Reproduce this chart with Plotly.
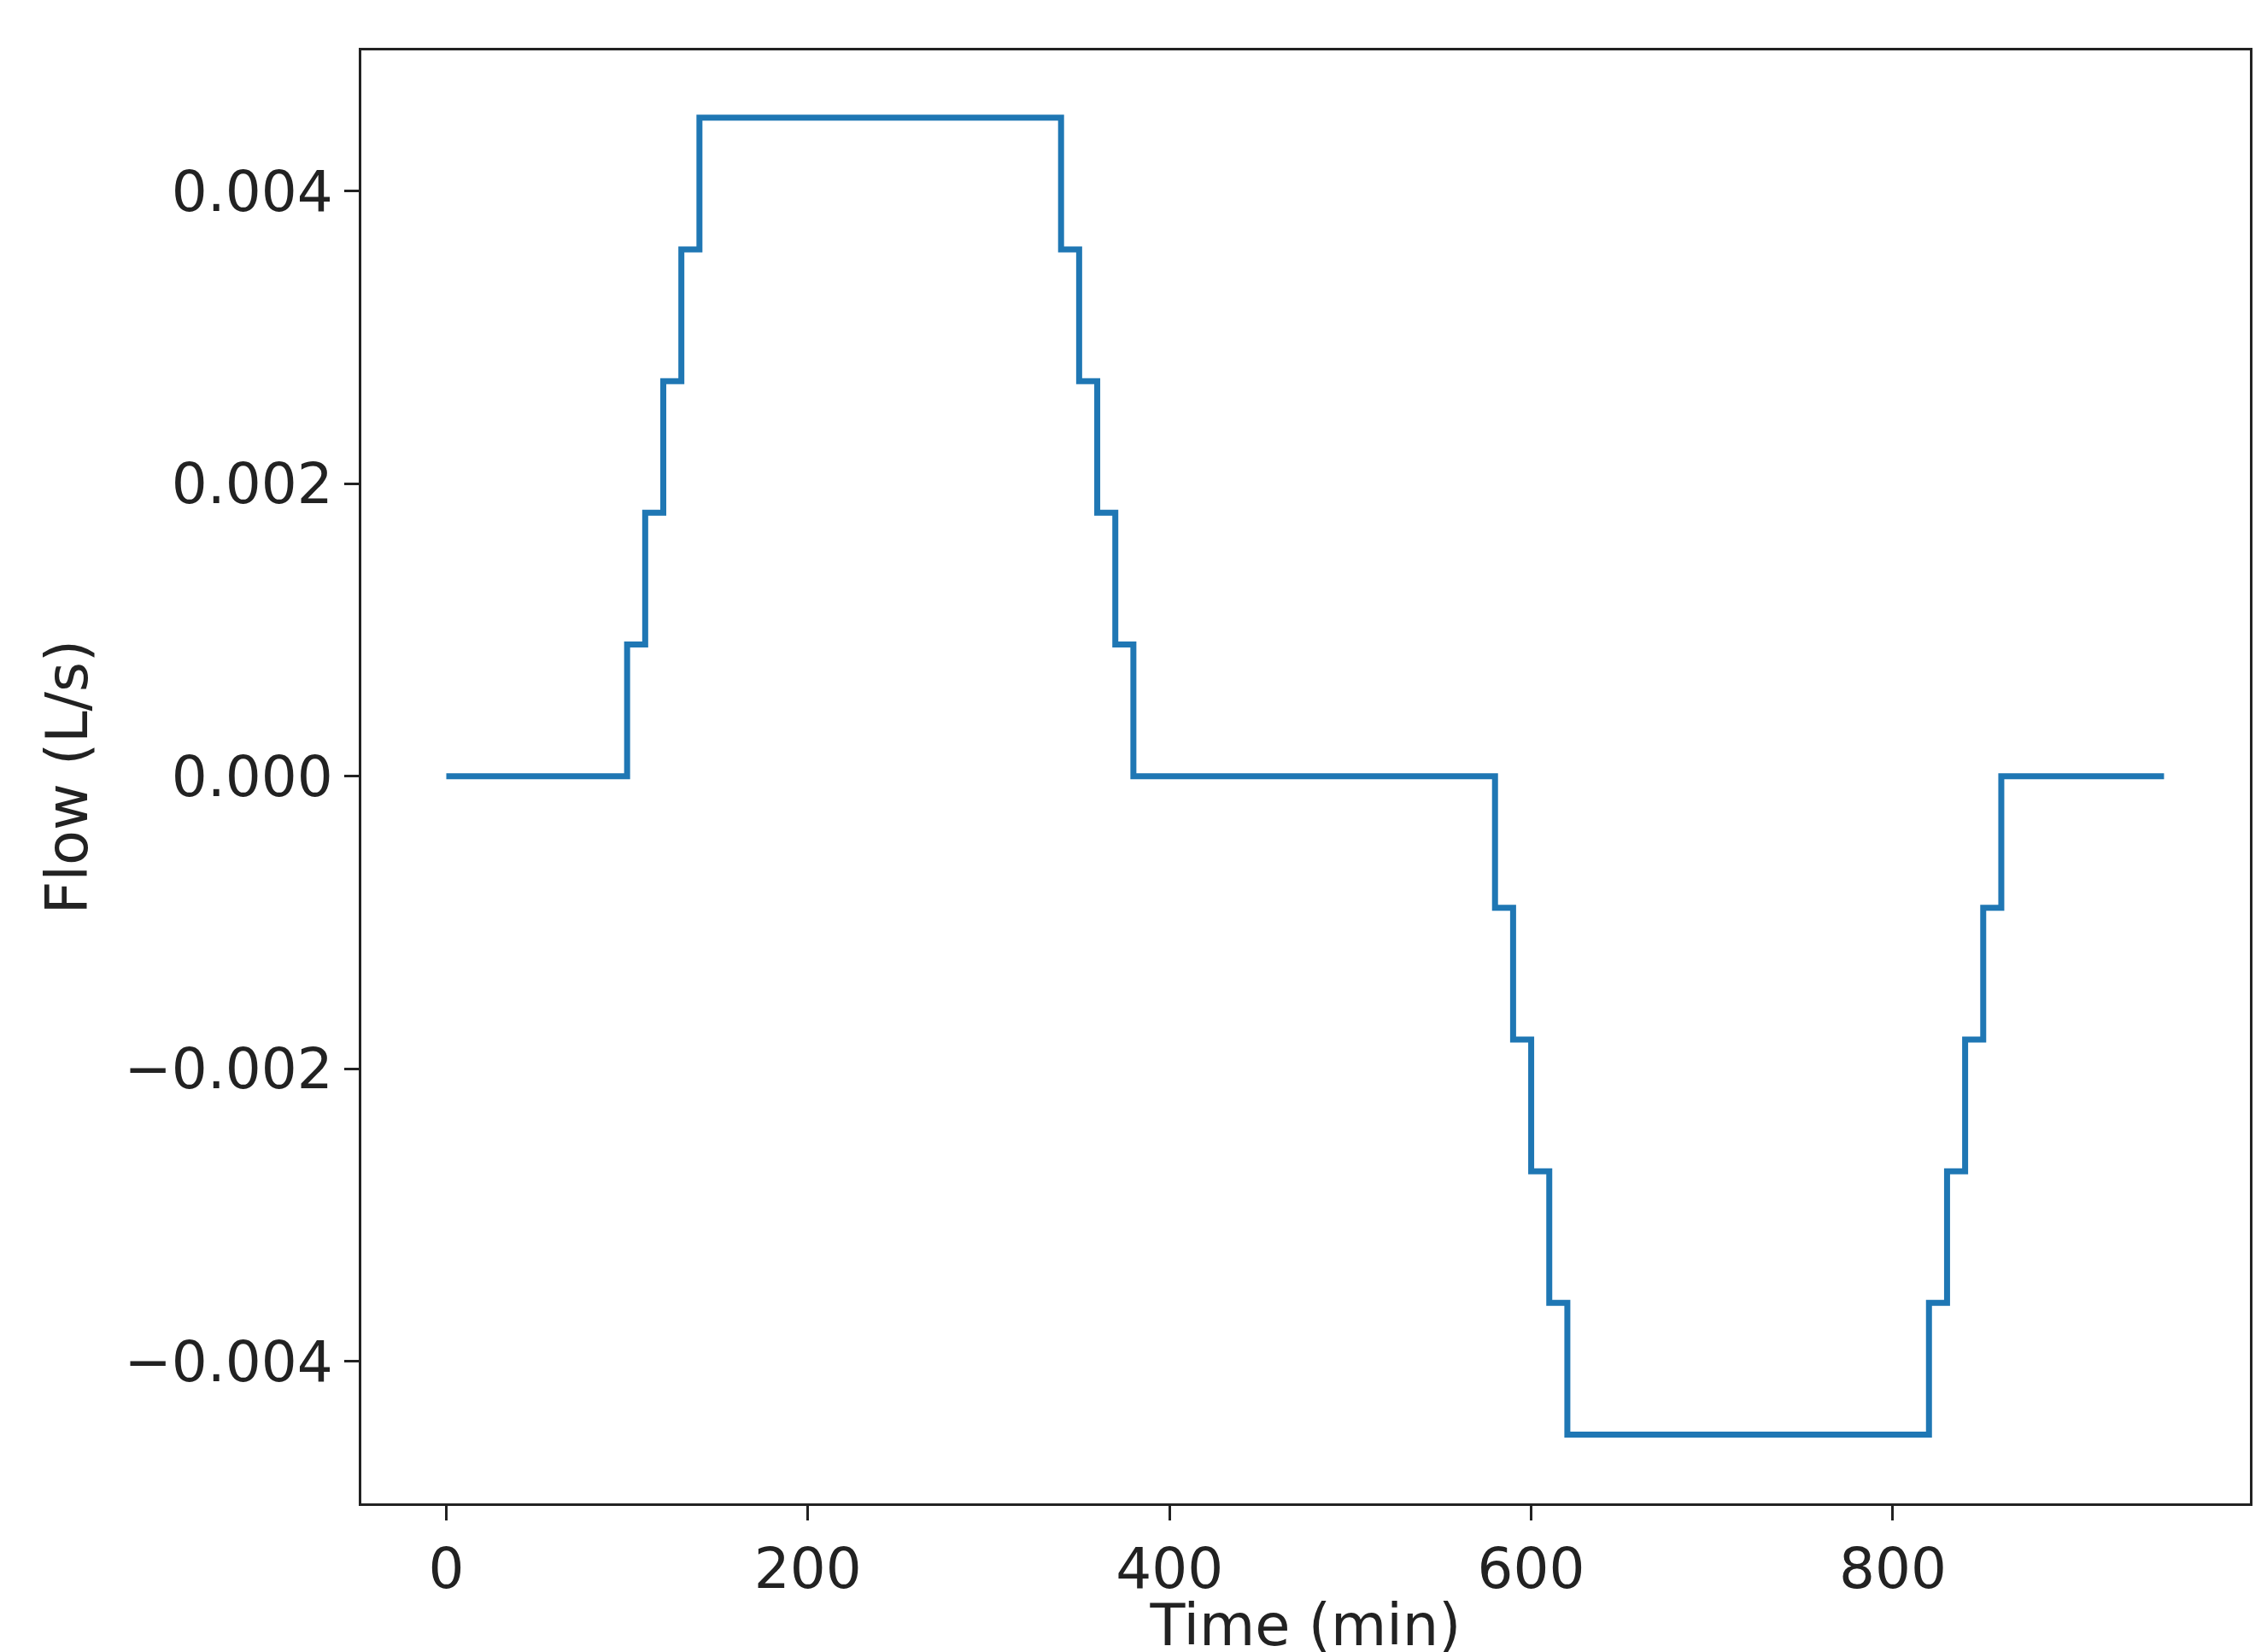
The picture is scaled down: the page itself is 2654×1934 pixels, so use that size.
import plotly.graph_objects as go

t = [0, 100, 110, 120, 130, 140, 340, 350, 360, 370, 380, 580, 590, 600, 610, 620, 820, 830, 840, 850, 860, 950]
flow = [0, 0.0009, 0.0018, 0.0027, 0.0036, 0.0045, 0.0036, 0.0027, 0.0018, 0.0009, 0,
        -0.0009, -0.0018, -0.0027, -0.0036, -0.0045, -0.0036, -0.0027, -0.0018, -0.0009, 0, 0]
xticks = [0, 200, 400, 600, 800]
yticks = [-0.004, -0.002, 0.0, 0.002, 0.004]
yticklabels = ["\u22120.004", "\u22120.002", "0.000", "0.002", "0.004"]

fig = go.Figure(go.Scatter(x=t, y=flow, mode="lines", line=dict(shape="hv", color="#1f77b4", width=7)))
ax = dict(showgrid=False, zeroline=False, showline=True, linecolor="#222", linewidth=3, mirror=True,
          ticks="outside", ticklen=17, tickwidth=3, tickcolor="#222", tickfont=dict(size=66))
fig.update_layout(
    width=2654, height=1934, plot_bgcolor="white", paper_bgcolor="white",
    font=dict(family="DejaVu Sans", size=56, color="#222"),
    margin=dict(l=415, r=28, t=51, b=177), showlegend=False,
    xaxis=dict(ax, range=[-47, 997.5], tickvals=xticks, title=dict(text="Time (min)", standoff=8)),
    yaxis=dict(ax, range=[-0.00497, 0.00496], tickvals=yticks, ticktext=yticklabels,
               title=dict(text="Flow (L/s)", standoff=22)),
)
fig.write_html("out.html")
